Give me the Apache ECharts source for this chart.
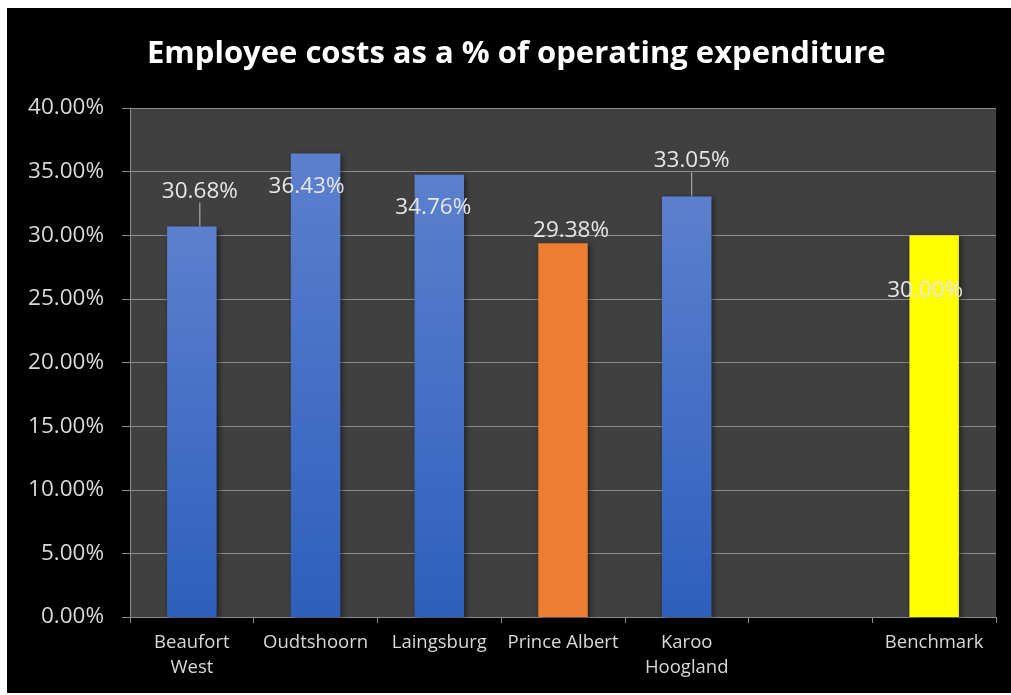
<!DOCTYPE html>
<html>
<head>
<meta charset="utf-8">
<script src="https://cdn.jsdelivr.net/npm/echarts@6/dist/echarts.min.js"></script>
<style>
html,body{margin:0;padding:0;background:#ffffff;width:1011px;height:695px;overflow:hidden;}
#chart{position:absolute;left:7px;top:8px;width:1004px;height:685px;background:#000000;}
</style>
</head>
<body>
<div id="chart"></div>
<script>
var categories = ['Beaufort\nWest', 'Oudtshoorn', 'Laingsburg', 'Prince Albert', 'Karoo\nHoogland', '', 'Benchmark'];
var values = [30.68, 36.43, 34.76, 29.38, 33.05, null, 30.00];
var yTicks = [0, 5, 10, 15, 20, 25, 30, 35, 40];

var blue = new echarts.graphic.LinearGradient(0, 0, 0, 1, [
  {offset: 0, color: '#5b80cd'},
  {offset: 1, color: '#2e5fbd'}
]);
var barColors = [blue, blue, blue, '#ed7d31', blue, blue, '#ffff00'];
var labelShift = [[8, -19], [-9, 50], [-6, 49], [8, 4], [5, -19], [0, 0], [-9, 72]];
var showLine = [true, false, false, false, true, false, false];

var chart = echarts.init(document.getElementById('chart'));
var fontFam = '"Open Sans", "Liberation Sans", sans-serif';
chart.setOption({
  backgroundColor: '#000000',
  animation: false,
  title: {
    text: 'Employee costs as a % of operating expenditure',
    left: 135,
    top: 26,
    textStyle: {color: '#ffffff', fontSize: 31, fontWeight: 'bold', fontFamily: fontFam}
  },
  grid: {left: 123, right: 15, top: 100, bottom: 76, backgroundColor: '#404040', show: true, borderWidth: 0},
  xAxis: {
    type: 'category',
    data: categories,
    axisLine: {lineStyle: {color: '#8c8c8c', width: 1}},
    axisTick: {show: true, length: 6, lineStyle: {color: '#8c8c8c'}},
    axisLabel: {color: '#d9d9d9', fontSize: 18.5, fontFamily: fontFam, lineHeight: 25, margin: 13, interval: 0}
  },
  yAxis: {
    type: 'value',
    min: 0, max: 40, interval: 5,
    axisLine: {show: true, lineStyle: {color: '#8c8c8c'}},
    axisTick: {show: true, length: 8, lineStyle: {color: '#8c8c8c'}},
    splitLine: {lineStyle: {color: '#8c8c8c', width: 1}},
    axisLabel: {
      color: '#d9d9d9', fontSize: 22.5, fontFamily: fontFam, margin: 26,
      formatter: function (v) { return yTicks.indexOf(v) >= 0 ? v.toFixed(2) + '%' : ''; }
    }
  },
  series: [{
    type: 'bar',
    barWidth: '40%',
    data: values.map(function (v, i) {
      return {
        value: v,
        itemStyle: {color: barColors[i]},
        labelLine: {show: showLine[i], lineStyle: {color: '#bfbfbf', width: 1}}
      };
    }),
    itemStyle: {shadowBlur: 6, shadowColor: 'rgba(0,0,0,0.55)', shadowOffsetX: 2, shadowOffsetY: 2},
    label: {
      show: true,
      position: 'top',
      distance: 5,
      color: '#e6e6e6',
      fontSize: 22.5,
      fontFamily: fontFam,
      formatter: function (p) { return p.value == null ? '' : p.value.toFixed(2) + '%'; }
    },
    labelLine: {show: false},
    labelLayout: function (p) {
      var s = labelShift[p.dataIndex];
      return {dx: s[0], dy: s[1]};
    }
  }]
});
</script>
</body>
</html>
